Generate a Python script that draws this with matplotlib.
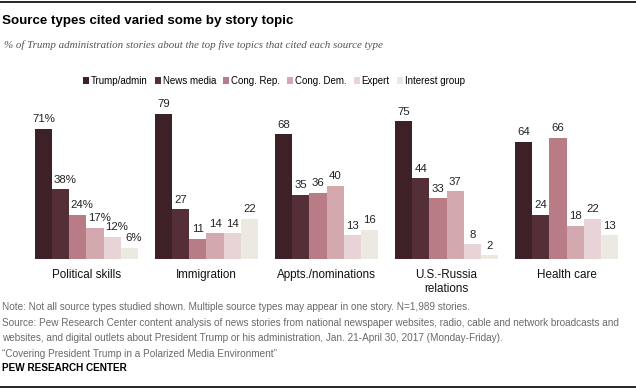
import matplotlib
matplotlib.use("Agg")
import matplotlib.pyplot as plt
from matplotlib.patches import Patch
from matplotlib.lines import Line2D

topics = ["Political skills", "Immigration", "Appts./nominations", "U.S.-Russia\nrelations", "Health care"]
sources = ["Trump/admin", "News media", "Cong. Rep.", "Cong. Dem.", "Expert", "Interest group"]
trump_admin = [71, 79, 68, 75, 64]
news_media = [38, 27, 35, 44, 24]
cong_rep = [24, 11, 36, 33, 66]
cong_dem = [17, 14, 40, 37, 18]
expert = [12, 14, 13, 8, 22]
interest_group = [6, 22, 16, 2, 13]
series = [trump_admin, news_media, cong_rep, cong_dem, expert, interest_group]
colors = ["#3D2126", "#552F38", "#B77C86", "#D3A8AF", "#E8D3D6", "#ECE9E3"]

FONT = ["Liberation Sans", "DejaVu Sans"]
plt.rcParams["font.family"] = FONT

W, H = 636, 389
fig = plt.figure(figsize=(W / 100, H / 100), dpi=100)

# axes: x 35..618 px, baseline at 259 px, 1.835 px per unit
ax = fig.add_axes([35 / W, (H - 259) / H, (618 - 35) / W, 183.5 / H])
ax.set_xlim(-3, 31)
ax.set_ylim(0, 100)
ax.axis("off")

spacing = 7
for j, (vals, c) in enumerate(zip(series, colors)):
    xs = [i * spacing + (j - 2.5) for i in range(len(topics))]
    ax.bar(xs, vals, width=1.0, color=c, linewidth=0)
    for i, (x, v) in enumerate(zip(xs, vals)):
        if i == 0:
            lab = f"{v}%"
            dx = 0.0 if j == 0 else 0.25
        else:
            lab = f"{v}"
            dx = 0.0
        ax.text(x + dx, v + 2.5, lab, ha="center", va="bottom", fontsize=8.2,
                color="#222222", family=FONT)

for i, t in enumerate(topics):
    ax.text(i * spacing, -5.5, t, ha="center", va="top", fontsize=8.4,
            color="#111111", family=FONT, linespacing=1.25)

# rules
fig.add_artist(Line2D([0, 1], [1 - 1.5 / H, 1 - 1.5 / H], color="black", lw=1.2))
fig.add_artist(Line2D([0, 1], [2 / H, 2 / H], color="black", lw=1.2))

fig.text(2 / W, 1 - 21 / H, "Source types cited varied some by story topic",
         fontsize=9.6, fontweight="bold", va="center", ha="left", color="black",
         family=FONT)
fig.text(4 / W, 1 - 45 / H,
         "% of Trump administration stories about the top five topics that cited each source type",
         fontsize=7.95, style="italic", va="center", ha="left", color="#555555",
         family=["Liberation Serif", "DejaVu Serif"])

handles = [Patch(facecolor=c, edgecolor="none") for c in colors]
fig.legend(handles, sources, loc="center", bbox_to_anchor=(274 / W, 1 - 81 / H),
           ncol=6, frameon=False, handlelength=0.6, handleheight=0.6,
           handletextpad=0.2, columnspacing=0.75, borderpad=0,
           prop={"family": FONT, "size": 7.0})

notes = [
    "Note: Not all source types studied shown. Multiple source types may appear in one story. N=1,989 stories.",
    "Source: Pew Research Center content analysis of news stories from national newspaper websites, radio, cable and network broadcasts and",
    "websites, and digital outlets about President Trump or his administration, Jan. 21-April 30, 2017 (Monday-Friday).",
    "\u201cCovering President Trump in a Polarized Media Environment\u201d",
]
for k, n in enumerate(notes):
    fig.text(2 / W, 1 - (307 + 15.7 * k) / H, n, fontsize=7.2, color="#6a6a6a",
             va="center", ha="left", family=FONT)
fig.text(2 / W, 1 - 368 / H, "PEW RESEARCH CENTER", fontsize=7.2, fontweight="bold",
         color="black", va="center", ha="left", family=FONT)

fig.savefig("out.png", dpi=100)
